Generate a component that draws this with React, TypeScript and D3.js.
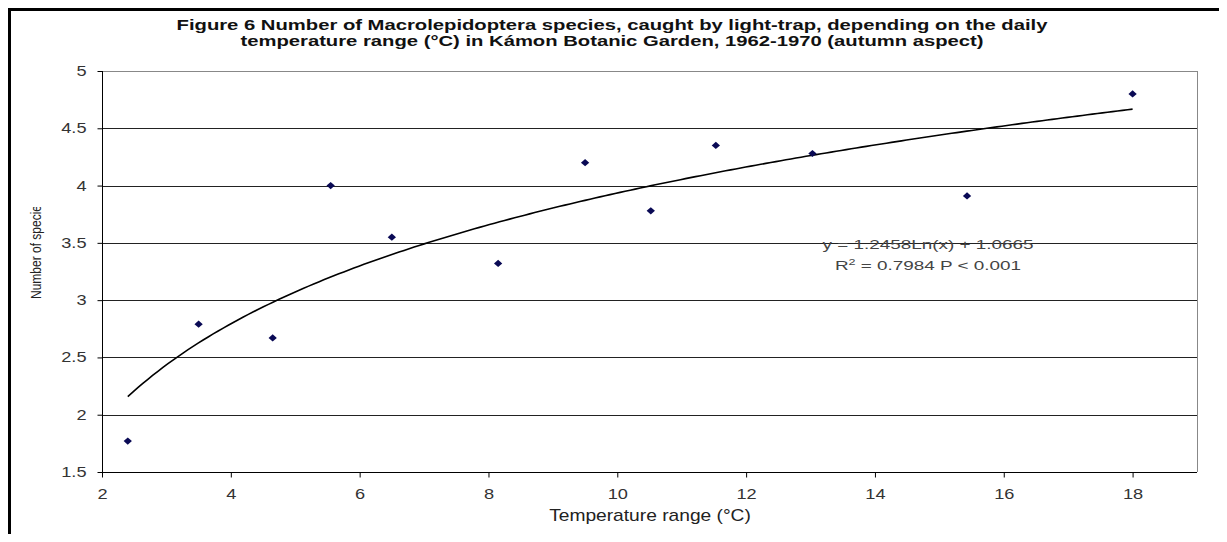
import React from "react";
import * as d3 from "d3";

type Point = { temp: number; species: number };

// daily temperature range (°C) vs number of species
const tempRange = [2.4, 3.5, 4.65, 5.55, 6.5, 8.15, 9.5, 10.52, 11.53, 13.03, 15.43, 18.0];
const speciesCount = [1.77, 2.79, 2.67, 4.0, 3.55, 3.32, 4.2, 3.78, 4.35, 4.28, 3.91, 4.8];

const xTicks = [2, 4, 6, 8, 10, 12, 14, 16, 18];
const yTicks = [1.5, 2, 2.5, 3, 3.5, 4, 4.5, 5];

// logarithmic trend line shown on the chart: y = a*ln(x) + b
const trendA = 1.2458;
const trendB = 1.0665;

const titleLines = [
  "Figure 6 Number of Macrolepidoptera species, caught by light-trap, depending on the daily",
  "temperature range (°C) in Kámon Botanic Garden, 1962-1970 (autumn aspect)",
];
const equationLine = "y = 1.2458Ln(x) + 1.0665";
const rSquaredText = " = 0.7984 P < 0.001";

const data: Point[] = tempRange.map((t, i) => ({ temp: t, species: speciesCount[i] }));

const W = 1227;
const H = 542;
const margin = { top: 71, left: 102 };
const width = 1197 - margin.left;
const height = 472 - margin.top;
const font = "Liberation Sans, Arial, sans-serif";

const ScatterChart: React.FC = () => {
  const svgRef = React.useRef<SVGSVGElement>(null);

  React.useEffect(() => {
    const svgEl = d3.select(svgRef.current);
    svgEl.selectAll("*").remove();

    svgEl.append("rect").attr("width", W).attr("height", H).attr("fill", "white");

    // outer frame (only top/left visible)
    svgEl
      .append("rect")
      .attr("x", 9.5)
      .attr("y", 9.5)
      .attr("width", W + 20)
      .attr("height", H + 20)
      .attr("fill", "none")
      .attr("stroke", "black")
      .attr("stroke-width", 3);

    // title (original text is horizontally stretched)
    svgEl
      .append("g")
      .selectAll("text")
      .data(titleLines)
      .join("text")
      .attr("transform", (d, i) => `translate(612,${30 + i * 16}) scale(1.35,1)`)
      .attr("text-anchor", "middle")
      .attr("font-family", font)
      .attr("font-weight", "bold")
      .attr("font-size", "15px")
      .attr("fill", "#111")
      .text((d) => d);

    const svg = svgEl.append("g").attr("transform", `translate(${margin.left},${margin.top})`);

    const xScale = d3.scaleLinear().domain([2, 19]).range([0, width]);
    const yScale = d3.scaleLinear().domain([1.5, 5]).range([height, 0]);

    // gridlines
    svg
      .append("g")
      .selectAll("line")
      .data(yTicks.filter((d) => d > 1.5))
      .join("line")
      .attr("x1", 0)
      .attr("x2", width)
      .attr("y1", (d) => Math.round(yScale(d)) + 0.5)
      .attr("y2", (d) => Math.round(yScale(d)) + 0.5)
      .attr("stroke", (d) => (d === 5 ? "#888" : "#222"))
      .attr("stroke-width", 1);

    // right border of plot area
    svg
      .append("line")
      .attr("x1", width + 0.5)
      .attr("x2", width + 0.5)
      .attr("y1", 0)
      .attr("y2", height)
      .attr("stroke", "#888");

    // x axis
    const xAxis = d3.axisBottom(xScale).tickValues(xTicks).tickSize(5).tickFormat(d3.format("d"));
    const xAxisGroup = svg.append("g").attr("transform", `translate(0,${height + 0.5})`).call(xAxis);
    xAxisGroup.select(".domain").attr("stroke", "black").attr("d", `M0,0H${width}`);
    xAxisGroup.selectAll(".tick line").attr("stroke", "black");
    xAxisGroup
      .selectAll(".tick text")
      .attr("y", null)
      .attr("dy", null)
      .attr("transform", "translate(0,26) scale(1.3,1)")
      .attr("font-family", font)
      .attr("font-size", "14px")
      .attr("fill", "#333");

    // y axis
    const yAxis = d3.axisLeft(yScale).tickValues(yTicks).tickSize(5).tickFormat((d) => `${d}`);
    const yAxisGroup = svg.append("g").attr("transform", `translate(0.5,0)`).call(yAxis);
    yAxisGroup.select(".domain").attr("stroke", "black").attr("d", `M0,0V${height}`);
    yAxisGroup.selectAll(".tick line").attr("stroke", "black");
    yAxisGroup
      .selectAll(".tick text")
      .attr("x", null)
      .attr("transform", "translate(-16,0) scale(1.3,1)")
      .attr("font-family", font)
      .attr("font-size", "14px")
      .attr("fill", "#333");

    // trend line
    const x0 = tempRange[0];
    const x1 = tempRange[tempRange.length - 1];
    const trendXs = d3.range(0, 201).map((i) => x0 + ((x1 - x0) * i) / 200);
    const lineDef = d3
      .line<number>()
      .x((d) => xScale(d))
      .y((d) => yScale(trendA * Math.log(d) + trendB));
    svg
      .append("path")
      .attr("d", lineDef(trendXs))
      .attr("fill", "none")
      .attr("stroke", "black")
      .attr("stroke-width", 1.6);

    // points (diamond markers)
    const marker = d3.symbol().type(d3.symbolSquare).size(26);
    svg
      .append("g")
      .selectAll("path")
      .data(data)
      .join("path")
      .attr("transform", (d) => `translate(${xScale(d.temp)},${yScale(d.species)}) scale(1.15,1) rotate(45)`)
      .attr("d", marker()!)
      .attr("fill", "#0a0a55");

    // equation
    svgEl
      .append("text")
      .attr("transform", "translate(928,249) scale(1.4,1)")
      .attr("text-anchor", "middle")
      .attr("font-family", font)
      .attr("font-size", "13.5px")
      .attr("fill", "#444")
      .text(equationLine);
    const r2 = svgEl
      .append("text")
      .attr("transform", "translate(928,270) scale(1.4,1)")
      .attr("text-anchor", "middle")
      .attr("font-family", font)
      .attr("font-size", "13.5px")
      .attr("fill", "#444");
    r2.append("tspan").text("R");
    r2.append("tspan").attr("dy", -5).attr("font-size", "9px").text("2");
    r2.append("tspan").attr("dy", 5).text(rSquaredText);

    // x label
    svgEl
      .append("text")
      .attr("transform", "translate(650,521) scale(1.2,1)")
      .attr("text-anchor", "middle")
      .attr("font-family", font)
      .attr("font-size", "16px")
      .attr("fill", "#222")
      .text("Temperature range (°C)");

    // y label (condensed, top clipped as in the original)
    svgEl
      .append("clipPath")
      .attr("id", "ylab_clip")
      .append("rect")
      .attr("x", 0)
      .attr("y", 207)
      .attr("width", 80)
      .attr("height", 200);
    svgEl
      .append("g")
      .attr("clip-path", "url(#ylab_clip)")
      .append("text")
      .attr("transform", "translate(41,299) rotate(-90) scale(0.8,1)")
      .attr("text-anchor", "start")
      .attr("font-family", font)
      .attr("font-size", "15px")
      .attr("fill", "#222")
      .text("Number of species");
  }, []);

  return <svg ref={svgRef} width={W} height={H} style={{ display: "block" }} />;
};

export default function App() {
  return (
    <div style={{ margin: -8 }}>
      <ScatterChart />
    </div>
  );
}
